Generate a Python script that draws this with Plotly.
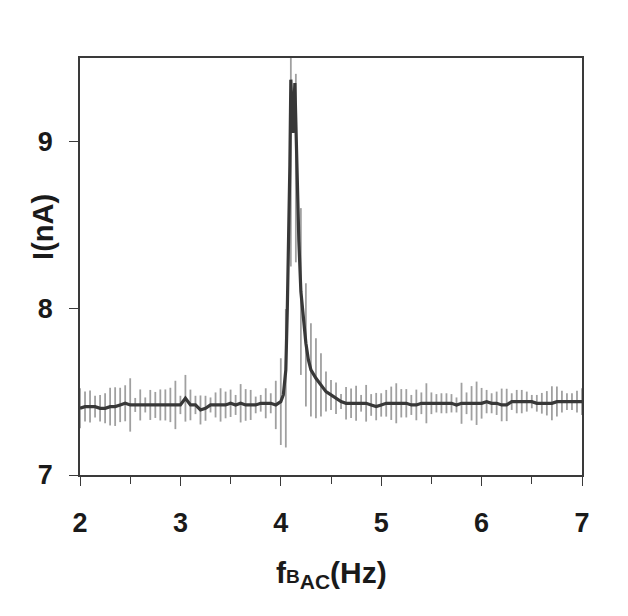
import numpy as np
import plotly.graph_objects as go

# Frequency grid (Hz), measured every 0.05 Hz
freq = [round(2.0 + 0.05 * i, 2) for i in range(101)]

# Mean current (nA) at each grid frequency (centre of the error bars)
current = [
    7.40, 7.41, 7.41, 7.41, 7.40, 7.40, 7.41, 7.41, 7.42, 7.43,   # 2.00-2.45
    7.42, 7.42, 7.42, 7.42, 7.42, 7.42, 7.42, 7.42, 7.42, 7.42,   # 2.50-2.95
    7.42, 7.46, 7.42, 7.42, 7.39, 7.40, 7.42, 7.42, 7.42, 7.42,   # 3.00-3.45
    7.43, 7.42, 7.43, 7.42, 7.42, 7.42, 7.43, 7.43, 7.43, 7.42,   # 3.50-3.95
    7.44, 7.58, 9.00, 8.84, 8.10, 7.78, 7.63, 7.58, 7.54, 7.50,   # 4.00-4.45
    7.48, 7.46, 7.44, 7.43, 7.43, 7.43, 7.43, 7.43, 7.42, 7.41,   # 4.50-4.95
    7.42, 7.43, 7.43, 7.43, 7.43, 7.43, 7.42, 7.42, 7.43, 7.43,   # 5.00-5.45
    7.43, 7.43, 7.43, 7.43, 7.43, 7.42, 7.43, 7.43, 7.43, 7.43,   # 5.50-5.95
    7.43, 7.44, 7.43, 7.43, 7.42, 7.42, 7.44, 7.44, 7.44, 7.44,   # 6.00-6.45
    7.44, 7.43, 7.43, 7.43, 7.43, 7.44, 7.44, 7.44, 7.44, 7.44,   # 6.50-6.95
    7.44,                                                         # 7.00
]

# Error (nA, +/-) at each grid frequency
current_err = [
    0.120, 0.090, 0.096, 0.065, 0.080, 0.090, 0.113, 0.116, 0.103, 0.108,
    0.160, 0.042, 0.093, 0.045, 0.090, 0.078, 0.093, 0.093, 0.103, 0.145,
    0.055, 0.140, 0.092, 0.055, 0.087, 0.075, 0.045, 0.075, 0.100, 0.080,
    0.082, 0.060, 0.115, 0.095, 0.090, 0.050, 0.050, 0.090, 0.060, 0.145,
    0.260, 0.415, 0.750, 0.565, 0.500, 0.370, 0.280, 0.240, 0.190, 0.120,
    0.090, 0.095, 0.045, 0.098, 0.088, 0.105, 0.050, 0.110, 0.065, 0.082,
    0.070, 0.080, 0.100, 0.120, 0.085, 0.085, 0.060, 0.092, 0.065, 0.120,
    0.065, 0.055, 0.060, 0.060, 0.055, 0.045, 0.123, 0.065, 0.103, 0.130,
    0.092, 0.070, 0.060, 0.070, 0.098, 0.097, 0.050, 0.070, 0.070, 0.060,
    0.040, 0.050, 0.062, 0.073, 0.102, 0.090, 0.065, 0.050, 0.050, 0.065,
    0.080,
]

# Finely resolved line through the resonance peak
peak_freq = [4.025, 4.05, 4.065, 4.08, 4.09, 4.10, 4.12, 4.14, 4.16, 4.18,
             4.20, 4.225, 4.25, 4.275]
peak_current = [7.48, 7.63, 8.00, 8.45, 8.85, 9.37, 9.05, 9.35, 8.80, 8.40,
                8.10, 7.92, 7.79, 7.69]

x_ticks = [2, 3, 4, 5, 6, 7]
y_ticks = [7, 8, 9]

x_title = "f<span style='font-size:19px'>B</span><sub>AC</sub>(Hz)"
y_title = "I(nA)"

# build line: grid values outside the peak window plus the fine peak values
line_pts = [(f, c) for f, c in zip(freq, current)
            if f < peak_freq[0] or f > peak_freq[-1]]
line_pts += list(zip(peak_freq, peak_current))
line_pts.sort()
line_x = [p[0] for p in line_pts]
line_y = [p[1] for p in line_pts]

FONT = "Liberation Sans, Arial, sans-serif"
TXT = "#1a1a1a"
AX = "#3a3a3a"

fig = go.Figure()
fig.add_trace(go.Scatter(
    x=freq, y=current, mode="markers",
    marker=dict(size=0.1, color="rgba(0,0,0,0)"),
    error_y=dict(type="data", array=current_err, visible=True,
                 color="#a0a0a0", thickness=1.8, width=0),
    showlegend=False, hoverinfo="skip",
))
fig.add_trace(go.Scatter(
    x=line_x, y=line_y, mode="lines",
    line=dict(color="#383838", width=3.2),
    showlegend=False,
))

axis_common = dict(
    showline=True, linecolor=AX, linewidth=1.5, mirror=True,
    showgrid=False, zeroline=False, automargin=False,
    ticks="outside", ticklen=9, tickwidth=1.2, tickcolor=AX,
    tickfont=dict(family=FONT, size=27, color=TXT, weight="bold"),
)

fig.update_xaxes(
    range=[2, 7], tickvals=x_ticks, ticklabelstandoff=14,
    minor=dict(dtick=0.5, ticks="outside", ticklen=7, tickwidth=1.2,
               tickcolor=AX, showgrid=False),
    **axis_common,
)
fig.update_yaxes(
    range=[7, 9.5], tickvals=y_ticks, ticklabelstandoff=11,
    **axis_common,
)

# axis titles
fig.add_annotation(
    text=x_title, xref="paper", yref="paper", x=0.5, y=0,
    xanchor="center", yanchor="middle", yshift=-99, showarrow=False,
    font=dict(family=FONT, size=30, color=TXT, weight="bold"),
)
fig.add_annotation(
    text=y_title, xref="paper", yref="paper", x=0, y=0.595,
    xanchor="center", yanchor="middle", xshift=-37, textangle=-90,
    showarrow=False,
    font=dict(family=FONT, size=29, color=TXT, weight="bold"),
)

fig.update_layout(
    width=628, height=616,
    margin=dict(l=72, r=54, t=50, b=149),
    plot_bgcolor="white", paper_bgcolor="white",
)

fig.write_html("out.html")
